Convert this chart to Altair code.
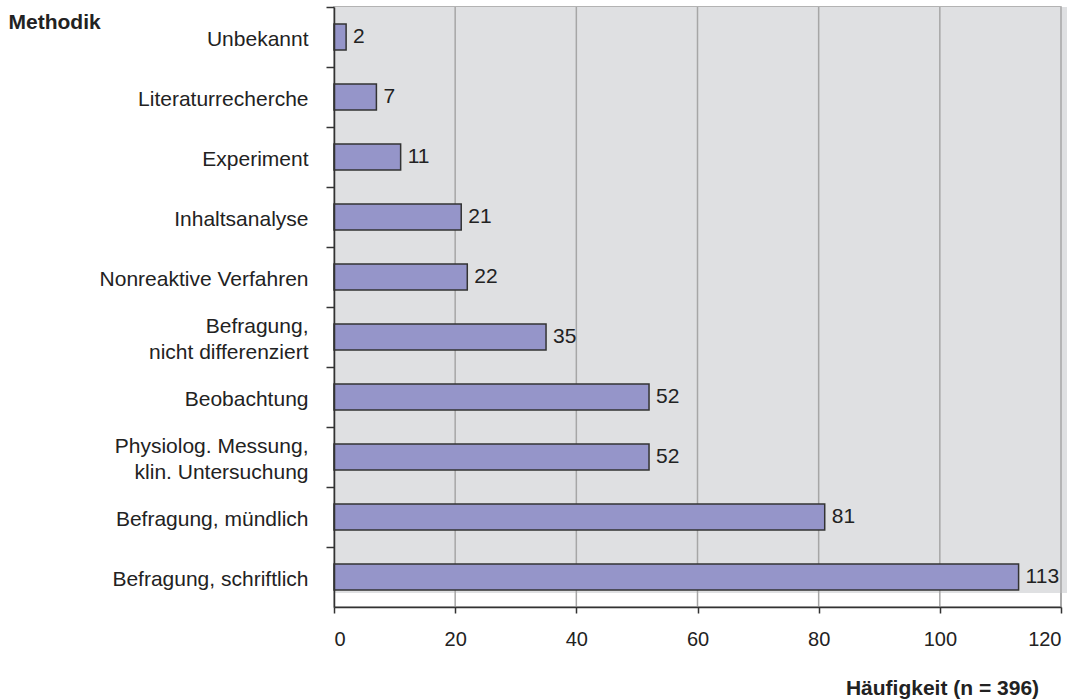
import altair as alt
import pandas as pd

# Methods (top to bottom) and their frequencies
methods = [
    "Unbekannt",
    "Literaturrecherche",
    "Experiment",
    "Inhaltsanalyse",
    "Nonreaktive Verfahren",
    "Befragung,\nnicht differenziert",
    "Beobachtung",
    "Physiolog. Messung,\nklin. Untersuchung",
    "Befragung, mündlich",
    "Befragung, schriftlich",
]
counts = [2, 7, 11, 21, 22, 35, 52, 52, 81, 113]
grid_ticks = [20, 40, 60, 80, 100, 120]

df = pd.DataFrame({"Methodik": methods, "Anzahl": counts})
grid_df = pd.DataFrame({"t": grid_ticks})

W, H = 727, 600
STEP = H / len(methods)
FONT = "Liberation Sans"
TXT = "#222222"

x_scale = alt.Scale(domain=[0, 120], nice=False, zero=True)
y_scale = alt.Scale(domain=methods, paddingInner=0.567, paddingOuter=0.2835)

x_axis = alt.Axis(
    values=[0, 20, 40, 60, 80, 100, 120],
    grid=False,
    domainColor="#333333",
    domainWidth=1.5,
    tickColor="#333333",
    tickWidth=1.5,
    tickSize=6,
    labelFont=FONT,
    labelFontSize=20,
    labelColor=TXT,
    labelPadding=16,
    title="Häufigkeit (n = 396)",
    titleFont=FONT,
    titleFontSize=21,
    titleFontWeight="bold",
    titleColor=TXT,
    titleAlign="center",
    titleBaseline="alphabetic",
    titleX=608,
    titleY=87,
    zindex=1,
)

# ticks sit on the category boundaries (tickOffset shifts labels too, so the
# label offset moves them back to the band centre); two-line labels are lifted
# by half a line
y_axis = alt.Axis(
    grid=False,
    tickOffset=-STEP / 2,
    domainColor="#333333",
    domainWidth=1.5,
    tickColor="#333333",
    tickWidth=1.5,
    tickSize=8,
    labelFont=FONT,
    labelFontSize=21,
    labelColor=TXT,
    labelPadding=18,
    labelLimit=400,
    labelLineHeight=26,
    labelOffset={
        "condition": {
            "test": "indexof(datum.value, '\\n') >= 0",
            "value": STEP / 2 - 11,
        },
        "value": STEP / 2 + 2,
    },
    labelExpr="split(datum.value, '\\n')",
    title="Methodik",
    titleFont=FONT,
    titleFontSize=21,
    titleFontWeight="bold",
    titleColor=TXT,
    titleAngle=0,
    titleAlign="left",
    titleBaseline="alphabetic",
    titleX=-326,
    titleY=21,
    zindex=1,
)

# Grey plot backdrop
backdrop = alt.Chart(alt.Data(values=[{}])).mark_rect(
    color="#dfe0e2"
).encode(
    x=alt.value(0), x2=alt.value(W + 6), y=alt.value(0), y2=alt.value(H - 14)
)

# Vertical gridlines
grid = alt.Chart(grid_df).mark_rule(color="#a6a6a6", strokeWidth=1.5).encode(
    x=alt.X("t:Q", scale=x_scale, axis=x_axis),
    y=alt.value(0),
    y2=alt.value(H),
)

bars = alt.Chart(df).mark_bar(
    color="#9595c9", stroke="#333333", strokeWidth=1.5
).encode(
    x=alt.X("Anzahl:Q", scale=x_scale, axis=x_axis),
    y=alt.Y("Methodik:N", scale=y_scale, sort=methods, axis=y_axis),
)

labels = alt.Chart(df).mark_text(
    align="left", baseline="middle", dx=7, font=FONT, fontSize=21, color=TXT
).encode(
    x=alt.X("Anzahl:Q", scale=x_scale),
    y=alt.Y("Methodik:N", scale=y_scale, sort=methods),
    text="Anzahl:Q",
)

chart = (
    alt.layer(backdrop, grid, bars, labels)
    .properties(
        width=W,
        height=H,
        autosize=alt.AutoSizeParams(type="none"),
        padding={"left": 334, "top": 7, "right": 20, "bottom": 92},
        background="white",
    )
    .configure_view(stroke="#9a9a9a", strokeWidth=1.5, fill=None)
)

chart.save("out.html", embed_options={"renderer": "svg", "actions": False})
